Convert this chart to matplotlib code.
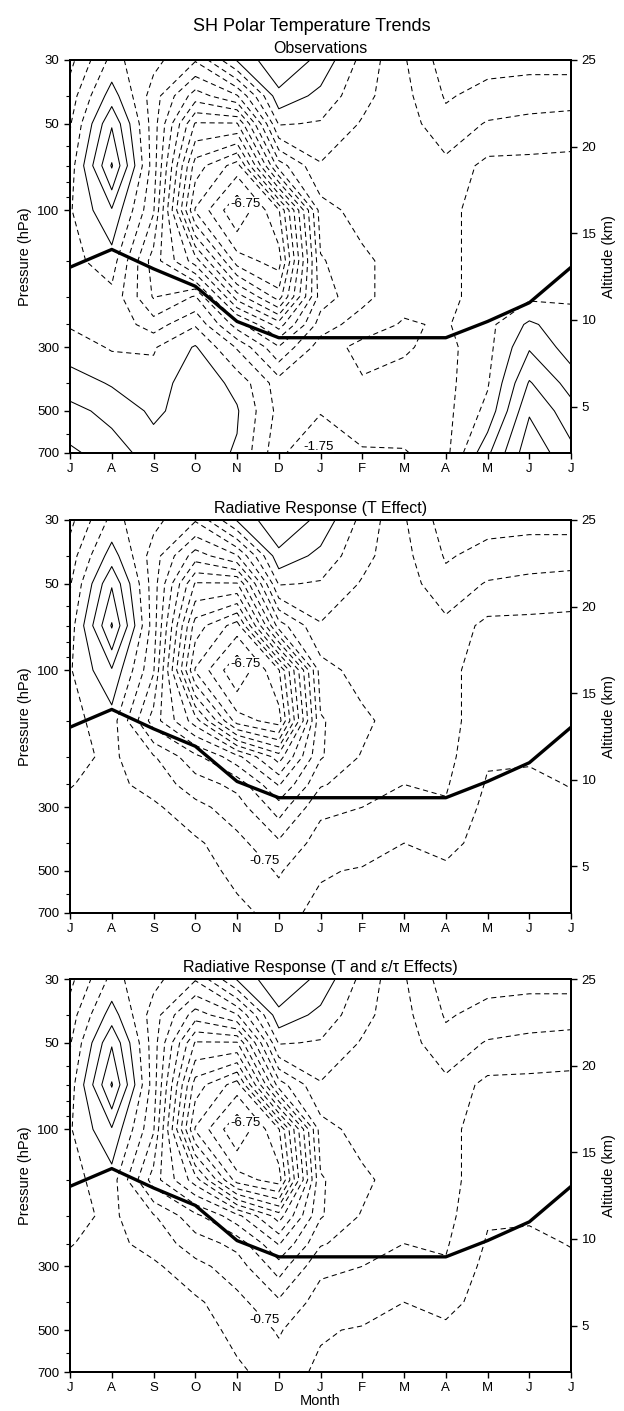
import numpy as np
import matplotlib.pyplot as plt

plt.rcParams['font.family'] = ['Liberation Sans', 'DejaVu Sans']

# month axis (J of one year to J of the next)
months = np.arange(13)
month_labels = ['J', 'A', 'S', 'O', 'N', 'D', 'J', 'F', 'M', 'A', 'M', 'J', 'J']
plev = np.array([30, 40, 50, 70, 100, 150, 200, 250, 300, 400, 500, 700])

# stratospheric part (30-150 hPa), nearly the same in all three panels
strat = np.array([
    [-1.4, -0.1, -0.6, -1.2,  0.3,  1.2,  0.6, -0.4, -1.2, -2.0, -1.9, -1.9, -1.9],
    [-1.0,  0.5, -1.0, -2.5, -1.8,  0.6,  0.1, -0.6, -1.1, -1.8, -1.6, -1.5, -1.5],
    [-0.8,  1.2, -1.0, -3.8, -3.8, -0.2, -0.3, -0.8, -1.0, -1.6, -1.2, -1.1, -1.0],
    [-0.5,  1.8, -1.0, -5.0, -6.0, -2.0, -0.8, -1.0, -1.0, -1.1, -0.6, -0.6, -0.6],
    [-0.3,  0.7, -1.2, -5.8, -7.2, -5.8, -1.5, -1.0, -0.9, -0.9, -0.5, -0.4, -0.4],
    [-0.4,  0.0, -2.0, -3.5, -6.0, -6.5, -1.8, -1.4, -0.9, -0.9, -0.5, -0.4, -0.4],
])

# 200-700 hPa, observations
trop_obs = np.array([
    [-0.4, -0.4, -1.8, -1.2, -4.0, -5.5, -2.0, -1.4, -0.9, -0.9, -0.5, -0.35, -0.3],
    [-0.3, -0.4, -1.0, -0.3, -2.0, -3.5, -1.5, -1.0, -0.7, -0.8, -0.4,  0.35, -0.1],
    [ 0.0, -0.3, -0.3,  0.3, -0.8, -2.2, -1.0, -0.6, -0.7, -0.9, -0.4,  0.7,  0.0],
    [ 0.5,  0.2, -0.05, 0.6,  0.1, -1.0, -0.9, -0.8, -0.9, -0.9, -0.3,  1.3,  0.55],
    [ 0.9,  0.6,  0.15, 0.5,  0.3, -0.9, -1.2, -1.0, -0.9, -0.9, -0.1,  1.7,  0.95],
    [ 1.35, 1.0,  0.5,  0.5,  0.2, -1.1, -1.9, -1.3, -1.3, -0.9,  0.65, 2.1,  1.4],
])

# 200-700 hPa, radiative response (T effect)
trop_t = np.array([
    [-0.4,  -0.15, -0.7,  -1.6,  -2.6, -4.0,  -1.8,  -1.2,  -0.9,  -0.9,  -0.3,  -0.3,  -0.4],
    [-0.27, -0.1,  -0.45, -1.0,  -1.4, -2.8,  -1.3,  -1.0,  -0.75, -0.8,  -0.2,  -0.15, -0.27],
    [-0.15, -0.05, -0.15, -0.6,  -1.0, -2.0,  -0.85, -0.75, -0.6,  -0.7,  -0.1,  -0.05, -0.15],
    [-0.05,  0.0,   0.0,  -0.15, -0.6, -1.15, -0.55, -0.5,  -0.25, -0.4,  -0.05,  0.0,  -0.05],
    [ 0.0,   0.0,   0.05,  0.0,  -0.4, -0.8,  -0.3,  -0.2,  -0.1,  -0.15,  0.0,   0.0,   0.0],
    [ 0.0,   0.05,  0.05,  0.1,  -0.1, -0.45, -0.1,  -0.05,  0.0,   0.0,   0.0,   0.0,   0.0],
])

# 200-700 hPa, radiative response (T and eps/tau effects)
trop_teps = np.array([
    [-0.4,  -0.15, -0.7,  -1.6,  -2.6, -4.0,  -1.8,  -1.2,  -0.9,  -0.9,  -0.3,  -0.3,  -0.4],
    [-0.27, -0.1,  -0.45, -1.0,  -1.4, -2.8,  -1.3,  -1.0,  -0.75, -0.8,  -0.2,  -0.15, -0.27],
    [-0.15, -0.05, -0.15, -0.6,  -1.0, -2.0,  -0.85, -0.75, -0.6,  -0.7,  -0.1,  -0.05, -0.15],
    [-0.05,  0.0,   0.0,  -0.15, -0.6, -1.15, -0.55, -0.5,  -0.25, -0.4,  -0.05,  0.0,  -0.05],
    [ 0.0,   0.0,   0.05,  0.0,  -0.4, -0.8,  -0.3,  -0.2,  -0.1,  -0.15,  0.0,   0.0,   0.0],
    [ 0.0,   0.05,  0.05,  0.1,  -0.15, -0.5, -0.15, -0.05,  0.0,   0.0,   0.0,   0.0,   0.0],
])

tropopause = np.array([158, 137, 160, 184, 244, 278, 278, 278, 278, 278, 244, 210, 158])

levels = np.arange(-8.25, 3.0, 0.5)

panels = [
    ("Observations", np.vstack([strat, trop_obs]), [(-6.75, 4.2, 95), (-1.75, 5.9, 660)]),
    ("Radiative Response (T Effect)", np.vstack([strat, trop_t]), [(-6.75, 4.2, 95), (-0.75, 4.7, 458)]),
    ("Radiative Response (T and \u03b5/\u03c4 Effects)", np.vstack([strat, trop_teps]), [(-6.75, 4.2, 95), (-0.75, 4.7, 458)]),
]


def altitude(p):
    return 25 - 7.2 * np.log(p / 30.0)


def line_style(lv):
    return 'solid' if lv > 0 else (0, (5, 3.5))


fig = plt.figure(figsize=(6.24, 14.11), dpi=100)
fig.text(0.5, 0.987, "SH Polar Temperature Trends", ha='center', va='top', fontsize=13)

bottoms = [0.679, 0.353, 0.0276]
for (title, field, labs), b in zip(panels, bottoms):
    ax = fig.add_axes([0.1122, b, 0.803, 0.2785])
    ax.set_yscale('log')
    ax.set_ylim(700, 30)
    ax.set_xlim(0, 12)

    lab_levels = [lv for lv, _, _ in labs]
    plain = [lv for lv in levels if not np.any(np.isclose(lv, lab_levels))]
    ax.contour(months, plev, field, levels=plain, colors='k', linewidths=0.75,
               linestyles=[line_style(lv) for lv in plain])
    # labelled contours drawn on their own so the label can be placed by hand
    for lv, mx, mp in labs:
        cl = ax.contour(months, plev, field, levels=[lv], colors='k', linewidths=0.75,
                        linestyles=[line_style(lv)])
        texts = ax.clabel(cl, manual=[(mx, mp)], fmt='%.2f', fontsize=9.5, inline=False)
        for t in texts:
            t.set_rotation(0)
            t.set_bbox(dict(facecolor='white', edgecolor='none', pad=0.6))
    ax.plot(months, tropopause, color='k', lw=2.4)

    ax.set_yticks([30, 50, 100, 300, 500, 700])
    ax.set_yticklabels(['30', '50', '100', '300', '500', '700'])
    ax.set_yticks([40, 60, 70, 80, 90, 150, 200, 250, 400, 600], minor=True)
    ax.yaxis.set_minor_formatter(plt.NullFormatter())
    ax.set_xticks(months)
    ax.set_xticklabels(month_labels)
    ax.tick_params(axis='both', direction='out', length=4, width=1, labelsize=9.5)
    ax.tick_params(axis='y', which='minor', direction='out', length=3, width=0.8)
    ax.set_ylabel("Pressure (hPa)", fontsize=10.5)
    ax.set_title(title, fontsize=11.5, pad=5)
    for s in ax.spines.values():
        s.set_linewidth(1.4)

    ax2 = ax.twinx()
    ax2.set_ylim(altitude(700), altitude(30))
    ax2.set_yticks([5, 10, 15, 20, 25])
    ax2.tick_params(axis='y', direction='out', length=4, width=1, labelsize=9.5)
    ax2.set_ylabel("Altitude (km)", fontsize=10.5)
    for s in ax2.spines.values():
        s.set_linewidth(1.4)

ax.set_xlabel("Month", fontsize=10.5, labelpad=0)

fig.savefig("out.png", dpi=100)
